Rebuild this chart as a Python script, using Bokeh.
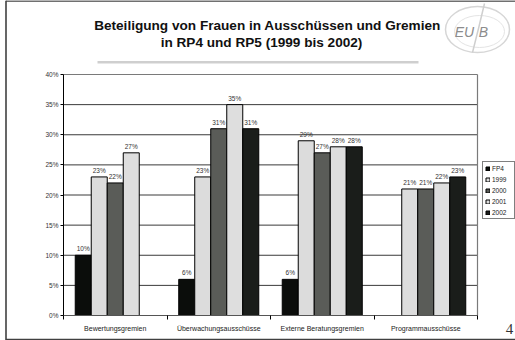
from bokeh.plotting import figure
from bokeh.models import (Range1d, FixedTicker, Legend, LegendItem,
                          BoxAnnotation, ColumnDataSource)
from bokeh.core.properties import value
from bokeh.embed import file_html
from bokeh.resources import INLINE

# ---------------- data ----------------
categories = ["Bewertungsgremien", "Überwachungsausschüsse",
              "Externe Beratungsgremien", "Programmausschüsse"]
series_names = ["FP4", "1999", "2000", "2001", "2002"]
fp4 = [10, 6, 6, None]
y1999 = [23, 23, 29, 21]
y2000 = [22, 31, 27, 21]
y2001 = [27, 35, 28, 22]
y2002 = [None, 31, 28, 23]
y_ticks = [0, 5, 10, 15, 20, 25, 30, 35, 40]
y_tick_labels = ["0%", "5%", "10%", "15%", "20%", "25%", "30%", "35%", "40%"]
title_lines = ["Beteiligung von Frauen in Ausschüssen und Gremien",
               "in RP4 und RP5 (1999 bis 2002)"]
page_number = "4"
logo_parts = ["EU", "B"]

series_values = [fp4, y1999, y2000, y2001, y2002]
colors = ["#0b0d0b", "#dcdcdc", "#5a5c58", "#dedede", "#1a1d1a"]

FONT = "Liberation Sans"
W, H = 515, 340
# plot area in page pixels
PL, PR, PT, PB = 63, 477, 74, 315
NCAT = len(categories)
YMAX = 40
kx = (PR - PL) / NCAT          # px per category
ky = (PB - PT) / YMAX          # px per percent

# page is the frame; ranges chosen so that the data area sits at PL..PR, PT..PB
x_range = Range1d(-PL / kx, NCAT + (W - PR) / kx)
y_range = Range1d(-(H - PB) / ky, YMAX + PT / ky)


def dx(px):
    return (px - PL) / kx


def dy(py):
    return (PB - py) / ky


p = figure(width=W, height=H, output_backend="svg", toolbar_location=None,
           x_range=x_range, y_range=y_range,
           min_border=0, min_border_left=0, min_border_right=0,
           min_border_top=0, min_border_bottom=0)
p.background_fill_color = "white"
p.border_fill_color = "white"
p.outline_line_color = None
p.xgrid.visible = False
p.ygrid.visible = False

# grid lines and plot-area border
p.segment(x0=[0] * (len(y_ticks) - 2), x1=[NCAT] * (len(y_ticks) - 2),
          y0=y_ticks[1:-1], y1=y_ticks[1:-1], line_color="#3a3a3a",
          line_width=1)
p.segment(x0=[0, NCAT], x1=[NCAT, NCAT], y0=[YMAX, 0], y1=[YMAX, YMAX],
          line_color="#7a7a7a", line_width=1.2)

bar_w = 0.1546
legend_items = []
for k, (name, vals, col) in enumerate(zip(series_names, series_values, colors)):
    xs, ys, labs = [], [], []
    for i, v in enumerate(vals):
        if v is None:
            continue
        xs.append(i + 0.5 + (k - 2) * bar_w)
        ys.append(v)
        labs.append(f"{v}%")
    src = ColumnDataSource(dict(x=xs, top=ys, lab=labs))
    r = p.vbar(x="x", top="top", width=bar_w, source=src, fill_color=col,
               line_color="#000000", line_width=1)
    p.text(x="x", y="top", text="lab", source=src, text_align="center",
           text_baseline="bottom", y_offset=-3, text_font_size="6.5px",
           text_font=value(FONT), text_color="#333333")
    legend_items.append(LegendItem(label=name, renderers=[r]))

# axes (fixed inside the page frame)
yax = p.yaxis[0]
yax.fixed_location = 0
yax.bounds = (0, YMAX)
yax.ticker = FixedTicker(ticks=y_ticks)
yax.major_label_overrides = {t: l for t, l in zip(y_ticks, y_tick_labels)}
yax.major_label_text_font = FONT
yax.major_label_text_font_size = "6.5px"
yax.major_label_text_color = "#333333"
yax.major_tick_out = 3
yax.major_tick_in = 0
yax.minor_tick_line_color = None
yax.axis_line_color = "#000000"
yax.major_label_standoff = 2

xax = p.xaxis[0]
xax.fixed_location = 0
xax.bounds = (0, NCAT)
centers = [i + 0.5 for i in range(NCAT)]
xax.ticker = FixedTicker(ticks=centers, minor_ticks=list(range(NCAT + 1)))
xax.major_label_overrides = {c: n for c, n in zip(centers, categories)}
xax.major_label_text_font = FONT
xax.major_label_text_font_size = "7px"
xax.major_label_text_color = "#222222"
xax.major_tick_line_color = None
xax.major_tick_out = 0
xax.major_tick_in = 0
xax.minor_tick_out = 4
xax.minor_tick_in = 0
xax.minor_tick_line_color = "#000000"
xax.axis_line_color = "#555555"
xax.major_label_standoff = 5

legend = Legend(items=legend_items, location=(482, H - 219),
                orientation="vertical")
legend.label_text_font = FONT
legend.label_text_font_size = "6.5px"
legend.label_text_color = "#222222"
legend.label_height = 8
legend.glyph_height = 5
legend.glyph_width = 5
legend.label_standoff = 2
legend.spacing = 3
legend.padding = 2
legend.margin = 0
legend.border_line_color = "#000000"
legend.border_line_width = 1
legend.background_fill_color = "white"
legend.background_fill_alpha = 1
p.add_layout(legend, "center")

# title
p.text(x=[dx(267), dx(261)], y=[dy(25), dy(42)], text=title_lines,
       text_font=value(FONT), text_font_size="13.6px", text_font_style="bold",
       text_align="center", text_baseline="middle", text_color="#111111")
p.add_layout(BoxAnnotation(left=dx(97), right=dx(418), top=dy(60.5),
                           bottom=dy(63), fill_color="#cfcfcf", fill_alpha=1,
                           line_color=None))

# logo
p.ellipse(x=[dx(477)], y=[dy(29)], width=[64], height=[46],
          width_units="screen", height_units="screen", fill_color=None,
          line_color="#d6d6d6", line_width=1.5)
p.ellipse(x=[dx(479)], y=[dy(31)], width=[50], height=[32],
          width_units="screen", height_units="screen", fill_color=None,
          line_color="#e4e4e4", line_width=1)
p.line(x=[dx(484), dx(478), dx(472)], y=[dy(3), dy(28), dy(52)],
       line_color="#cfcfcf", line_width=1.5)
p.text(x=[dx(464), dx(483)], y=[dy(31), dy(31)], text=logo_parts,
       text_font=value(FONT), text_font_size="14px", text_font_style="italic",
       text_align="center", text_baseline="middle", text_color="#8c8c8c")

# page number
p.text(x=[dx(509)], y=[dy(328)], text=[page_number],
       text_font=value("Liberation Serif"), text_font_size="15px",
       text_align="center", text_baseline="middle", text_color="#333333")

# page frame
p.segment(x0=[dx(5.5), dx(5.5), dx(5.5)], x1=[dx(5.5), dx(520), dx(520)],
          y0=[dy(0), dy(0.5), dy(339)], y1=[dy(340), dy(0.5), dy(339)],
          line_color="#404040", line_width=1.6)

open("out.html", "w").write(file_html(p, INLINE))
